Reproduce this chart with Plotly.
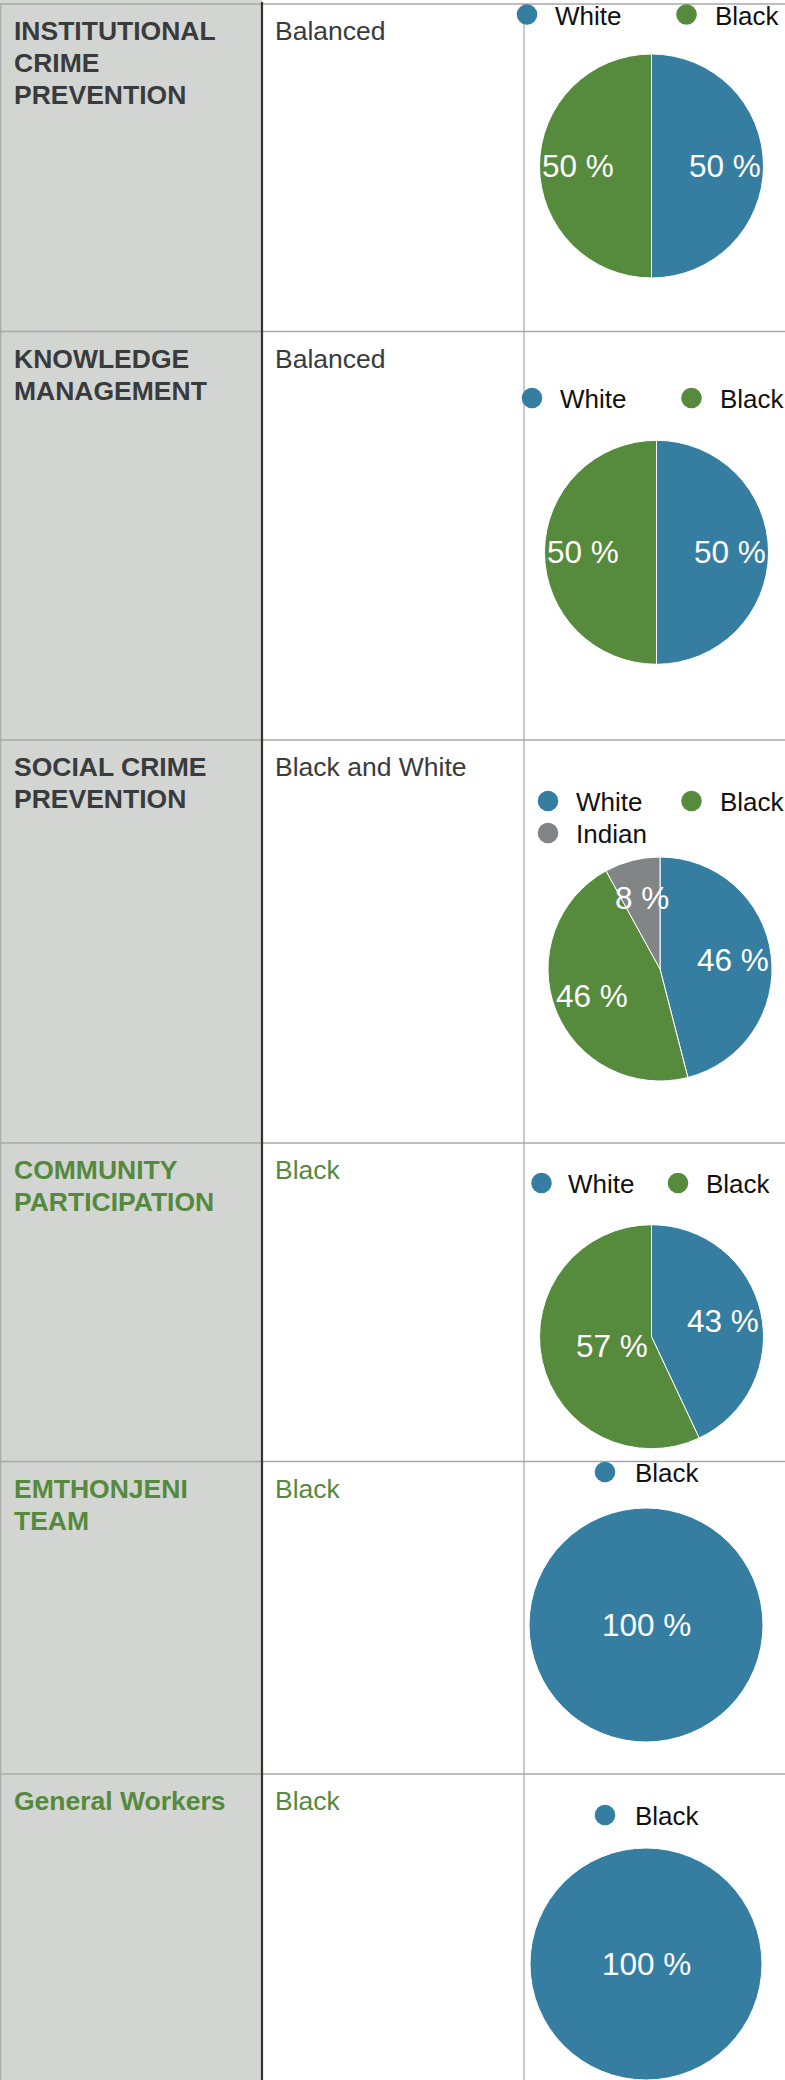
import math
import plotly.graph_objects as go

# ---------------- data ----------------
units = ["INSTITUTIONAL<br>CRIME<br>PREVENTION",
         "KNOWLEDGE<br>MANAGEMENT",
         "SOCIAL CRIME<br>PREVENTION",
         "COMMUNITY<br>PARTICIPATION",
         "EMTHONJENI<br>TEAM",
         "General Workers"]
status = ["Balanced", "Balanced", "Black and White", "Black", "Black", "Black"]
status_green = [False, False, False, True, True, True]
pie_labels = [["White", "Black"],
              ["White", "Black"],
              ["White", "Black", "Indian"],
              ["White", "Black"],
              ["Black"],
              ["Black"]]
pie_values = [[50, 50],
              [50, 50],
              [46, 46, 8],
              [43, 57],
              [100],
              [100]]

# ---------------- style / layout constants ----------------
W, H = 785, 2080
FONT = "Liberation Sans, Arial, Helvetica, sans-serif"
PALETTE = ["#357ea2", "#568a3c", "#828585"]
GRAY_BG = "#d3d5d2"
LINE = "#a8a8a8"
DARK = "#3a3b3d"
GREEN_TXT = "#55893d"

row_tops = [4, 331.5, 740, 1143, 1461.5, 1774]
col1_x, col2_x = 262, 524
pie_centers = [(651.5, 166), (656.5, 552.3), (660, 969), (651.5, 1336.7), (646, 1625), (646, 1964)]
pie_r = [112, 112, 112, 112, 117, 116]
LABEL_R = 0.656  # relative radius of slice labels
# legend items per row: (marker x, marker y, text x)
legend_pos = [
    [(527, 14.5, 553), (686.5, 14.5, 712.5)],
    [(532, 398, 558), (691.5, 398, 717.5)],
    [(548, 801, 574), (691.5, 801, 717.5), (548, 833, 574)],
    [(541.5, 1183, 566), (678, 1183, 704)],
    [(605, 1472, 633)],
    [(605, 1815, 633)],
]


def px(x):
    return x / W


def py(y):
    return 1 - y / H


fig = go.Figure()
shapes = []
annotations = []

# gray first column
shapes.append(dict(type="rect", xref="paper", yref="paper", x0=0, x1=px(col1_x), y0=0, y1=1,
                   fillcolor=GRAY_BG, line=dict(width=0), layer="below"))
# horizontal row lines
for yt in row_tops:
    shapes.append(dict(type="line", xref="paper", yref="paper", x0=0, x1=1, y0=py(yt), y1=py(yt),
                       line=dict(color=LINE, width=1.5), layer="below"))
# left border
shapes.append(dict(type="line", xref="paper", yref="paper", x0=px(0.7), x1=px(0.7), y0=0, y1=py(row_tops[0]),
                   line=dict(color=LINE, width=1.2), layer="below"))
# thin vertical line between column 2 and 3
shapes.append(dict(type="line", xref="paper", yref="paper", x0=px(col2_x), x1=px(col2_x), y0=0, y1=py(row_tops[0]),
                   line=dict(color=LINE, width=1.2), layer="below"))
# dark vertical line after first column
shapes.append(dict(type="line", xref="paper", yref="paper", x0=px(col1_x), x1=px(col1_x), y0=0, y1=py(2),
                   line=dict(color="#333333", width=2.2), layer="below"))

for i in range(len(units)):
    top = row_tops[i]
    color = GREEN_TXT if status_green[i] else DARK
    for j, line in enumerate(units[i].split("<br>")):
        annotations.append(dict(text=line, xref="paper", yref="paper", x=px(11.5), y=py(top + 27 + 32 * j),
                                xanchor="left", yanchor="middle", showarrow=False,
                                font=dict(family=FONT, size=26.5, color=color, weight="bold")))
    annotations.append(dict(text=status[i], xref="paper", yref="paper", x=px(272.5), y=py(top + 27),
                            xanchor="left", yanchor="middle", showarrow=False,
                            font=dict(family=FONT, size=26.5, color=color)))
    # legend
    for k, lab in enumerate(pie_labels[i]):
        mx, my, tx = legend_pos[i][k]
        rr = 10.3
        shapes.append(dict(type="circle", xref="paper", yref="paper",
                           x0=px(mx - rr), x1=px(mx + rr), y0=py(my + rr), y1=py(my - rr),
                           fillcolor=PALETTE[k], line=dict(width=0), layer="above"))
        annotations.append(dict(text=lab, xref="paper", yref="paper", x=px(tx), y=py(my + 1),
                                xanchor="left", yanchor="middle", showarrow=False,
                                font=dict(family=FONT, size=26, color="#111111")))
    # pie
    cx, cy = pie_centers[i]
    r = pie_r[i]
    vals = pie_values[i]
    fig.add_trace(go.Pie(
        labels=pie_labels[i], values=vals,
        domain=dict(x=[px(cx - r), px(cx + r)], y=[max(0, py(cy + r)), py(cy - r)]),
        sort=False, direction="clockwise", rotation=0,
        marker=dict(colors=PALETTE[:len(pie_labels[i])], line=dict(color="white", width=1)),
        textinfo="none",
        showlegend=False, hoverinfo="label+percent",
    ))
    # slice labels, placed from the slice angles
    total = float(sum(vals))
    start = 0.0
    for v in vals:
        frac = v / total
        alpha = 2 * math.pi * frac
        mid = start + alpha / 2
        if frac >= 0.999:
            dist = 0.0
        elif frac > 0.5:
            dist = r * 4 * math.sin(alpha / 2) / (3 * alpha)
        else:
            dist = r * LABEL_R
        lx = cx + dist * math.sin(mid)
        ly = cy - dist * math.cos(mid)
        annotations.append(dict(text=f"{v:g} %", xref="paper", yref="paper", x=px(lx), y=py(ly),
                                xanchor="center", yanchor="middle", showarrow=False,
                                font=dict(family=FONT, size=31.5, color="white")))
        start += alpha

fig.update_layout(
    width=W, height=H, autosize=False,
    margin=dict(l=0, r=0, t=0, b=0),
    paper_bgcolor="white", plot_bgcolor="white",
    shapes=shapes, annotations=annotations,
    showlegend=False,
    font=dict(family=FONT),
)

fig.write_html("out.html",
               config={"displayModeBar": False},
               post_script="document.body.style.margin='0px';document.body.style.overflow='hidden';")
